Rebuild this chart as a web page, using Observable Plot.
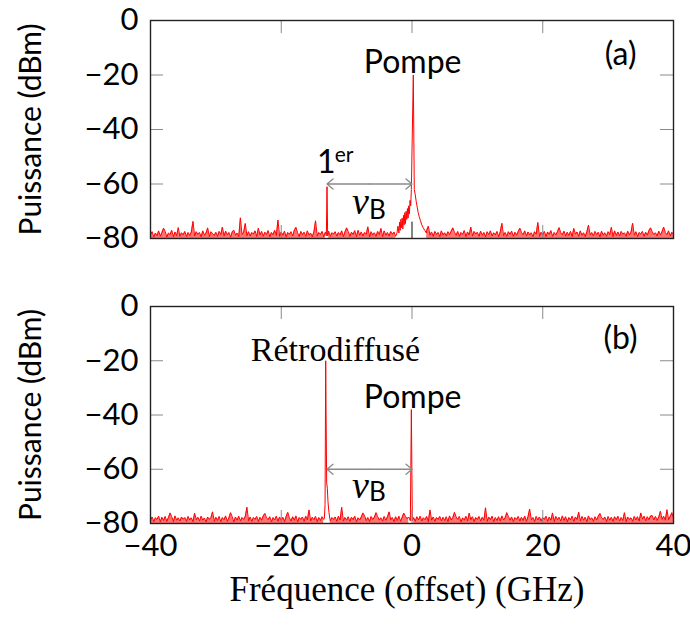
<!DOCTYPE html>
<html><head><meta charset="utf-8">
<script src="https://cdn.jsdelivr.net/npm/d3@7"></script>
<script src="https://cdn.jsdelivr.net/npm/@observablehq/plot@0.6"></script>
<style>
body{margin:0;background:#fff}
#chart{width:690px;height:625px;position:relative}
#chart svg{display:block}
</style>
</head><body><div id="chart"></div>
<script>
// ---------------- data ----------------
const xTicks = [-40, -20, 0, 20, 40];
const yTicks = [-80, -60, -40, -20, 0];
const xInnerTicks = [-20, 0, 20];
const yInnerTicks = [-60, -40, -20];
const floorDb = -80;          // noise floor (dBm)
const noiseStart = -40;       // GHz, first noise sample
const noiseStep = 0.25;       // GHz between noise samples

// noise heights above floor (dB), panel (a)
const noiseA = [
1.5,2.5,0.5,2,1,2.8,0.8,2.2,3.8,2.6,0.5,2,1.4,3,0.6,2.4,1,4,0.8,2.1,
1.3,2.6,0.7,2.2,1.1,2.4,6.3,0.9,2.5,1.5,2.2,0.6,2.8,1.2,2,3.9,0.7,2.5,1.8,1.1,
2.3,0.8,2.6,1.4,4.2,0.9,2.7,1.3,2.2,0.5,2.4,3,1.2,2,0.7,7.6,1.5,2.3,5.5,1,
2.5,0.9,2.2,1.6,2.8,0.7,3.8,1.3,2.6,0.8,2.3,1.5,2.9,0.6,2.2,1.4,3,1.1,6.8,0.8,
2.4,1.2,2.7,0.6,2.2,1.5,2.5,0.9,3,4.1,2.1,0.7,2.6,1.4,2.3,0.8,2.8,1.2,2,0.6,
2.4,6.5,0.9,2.2,1.5,2.6,0.7,2.3,1.2,2.7,0.8,2.1,1.6,2.5,0.9,2.2,1.3,2.8,0.7,2.4,
3.9,2.6,0.8,2.3,1.5,2.9,0.7,3,1.2,2.4,0.9,2.2,1.6,4.3,0.6,2.5,1.3,2.1,0.8,2.6,
1.4,3.7,0.7,2.8,1.2,2.2,0.9,2.6,1.5,2.4,0.8,2.7,1.6,2.9,3,2.5,3.2,4,3.4,5,
4,5,6,5,4,3,4,3,2,3,4.5,1.2,2.4,0.8,2.6,1.5,2.2,0.7,2.8,1.3,
2.1,0.9,2.5,1.4,2.7,3.9,2.3,1.2,2.6,0.8,2.2,1.5,2.9,0.7,2.4,1.3,4.2,0.9,2.6,1.6,
2.3,0.8,2.7,1.2,2.2,0.6,2.5,1.4,2.8,0.9,2.1,1.3,2.6,0.7,2.4,5.6,1.1,2.2,0.8,2.5,
1.5,2.7,0.8,2.3,1.2,2.6,3.8,2.2,1.4,2.8,0.9,2.4,1.3,2.1,0.7,2.5,1.6,5.9,0.8,2.3,
1.2,2.6,0.7,2.4,1.5,2.9,0.8,2.2,1.3,2.5,4,2.1,1.4,2.7,0.9,2.3,1.1,2.6,0.7,3.7,
1.6,2.4,0.8,2.8,1.2,2.1,0.7,2.5,4.9,1.3,2.2,0.9,2.6,1.4,2.3,0.6,2.7,1.2,2.1,0.8,
2.5,1.4,4.1,0.7,2.8,1.1,2.4,0.9,2.6,1.5,2.1,0.8,2.7,1.3,2.3,5.6,1.2,2.5,0.7,2.2,
1.6,2.6,0.8,2.3,1.2,2.9,3.9,2.4,1.5,2.1,0.9,2.7,1.3,2.5,4.2,2.2,1.4,2.8,0.9,2.3,
1.5];

// noise heights above floor (dB), panel (b)
const noiseB = [
1.2,2.4,0.7,2.1,1.5,2.7,0.6,2.3,1.1,2.6,0.8,2.2,3.9,2.5,0.7,2.8,1.2,2.1,0.9,2.4,
1.6,2.2,0.8,2.6,1.3,2.1,0.7,3.8,1.4,2.3,0.9,2.7,1.2,2,0.6,2.4,1.5,2.2,4.3,0.8,
2.3,1.1,2.6,0.7,2.2,1.4,2.8,0.8,2.1,4,2.5,0.6,2.4,1.2,2.7,0.9,2.2,1.5,2.6,6,
1,2.4,0.8,2.2,1.5,2.6,0.7,2.3,1.2,2.8,3.7,2.1,1.4,2.5,0.6,2.2,1.3,2.7,0.8,2.4,
1.1,2.3,0.7,2.6,4.1,2.1,0.9,2.5,1.2,2.8,0.6,2.2,1.5,2.4,0.8,2.7,1.3,5,0.9,2.3,
1.4,2.6,0.7,2.2,1.1,2.5,1.5,3,1.2,2.6,1,2.2,1.5,2.4,0.8,2.7,1.3,6,0.9,2.2,
1.2,2.5,0.8,2.3,1.4,2.7,0.6,2.1,1.3,2.4,3.9,2.8,1.1,2.2,0.7,2.6,1.5,2.3,4,2.5,
1.3,2.1,0.9,2.6,1.2,2.4,4.3,1.4,2.2,0.7,2.5,1.1,2.7,0.8,2.3,3.8,2.6,1.8,2.4,2.9,
1.6,2.2,0.8,2.5,1.3,2.7,0.9,2.1,1.4,2.6,0.7,5,1.2,2.4,0.8,2.2,1.5,2.6,0.9,2.3,
1.1,2.5,0.7,2.8,1.3,2.2,4.1,2.4,1.5,2.6,0.6,2.1,1.2,2.7,0.9,3.8,1.4,2.5,0.7,2.2,
1.5,2.6,0.9,2.3,1.2,5.8,0.8,2.4,1.4,2.7,0.7,2.2,1.1,2.5,0.9,2.8,1.3,2.1,4,2.6,
1.2,2.4,0.7,2.2,1.5,2.6,0.9,2.3,1.1,2.7,0.8,2.5,5.3,1.4,2.2,0.7,2.6,1.3,2.4,0.9,
2.2,1.5,2.7,0.8,2.4,1.2,3.9,0.7,2.6,1.4,2.3,0.9,2.8,1.1,2.5,0.6,2.2,1.3,2.7,0.8,
2.4,1.5,4.2,0.9,2.6,1.2,2.3,0.7,2.8,1.4,2.1,0.8,2.5,1.3,2.7,3.7,2.2,1.5,2.4,0.7,
2.6,1.2,2.3,0.8,2.5,1.4,2.7,0.9,2.2,1.1,4,0.7,2.4,1.5,2.1,0.8,2.6,1.3,2.5,0.9,
3.9,1.6,2.7,1,2.5,1.4,2.8,2.9,1.3,2.6,1.1,2.4,4.5,1.5,2.7,1.2,5.1,1.4,2.6,4,
1.8];

// peaks, panel (a)
const firstA_x = [-13.1, -13.0, -12.9];
const firstA_y = [-79, -61, -79];
const pumpA_x = [-2.3,-2.15,-2.0,-1.9,-1.8,-1.7,-1.6,-1.5,-1.4,-1.3,
                 -1.2,-1.1,-1.0,-0.9,-0.8,-0.7,-0.6,-0.5,-0.4,-0.3,
                 -0.2,-0.1,0.2,0.35,0.5,0.65,0.8,0.95,1.1,1.3,
                 1.5,1.7,1.95,2.2];
const pumpA_y = [-78,-75.5,-78,-74,-77,-73,-76,-72.5,-76.5,-71.5,
                 -75,-70.5,-74.5,-70,-73,-69,-72.5,-68,-71,-66,
                 -68,-62,-20,-62,-64,-66.5,-68.5,-70.5,-72,-73.5,
                 -75,-76,-77,-78];
const blackA_x = [0];
const blackA_y = [-74];

// peaks, panel (b)
const retroB_x = [-13.4,-13.3,-13.2,-13.15,-13.05,-12.95,-12.85,-12.7,-12.55];
const retroB_y = [-78,-73,-20,-38,-65,-67,-72,-76,-78.5];
const pumpB_x = [-0.25,-0.1,0.05];
const pumpB_y = [-79,-38,-79];

// annotations
const arrowSpan = [-13, 0];   // GHz, ν_B arrow ends
const arrowLevel = -60;       // dBm
const labelsA = [
  {t: "Pompe", x: 0.1, y: -15.6, font: "sans", size: 32},
  {t: "1", x: -13.1, y: -52.1, font: "sans", size: 32},
  {t: "er", x: -10.4, y: -49.5, font: "sans", size: 21},
  {t: "(a)", x: 31.9, y: -12.7, font: "sans", size: 32},
  {t: "ν", x: -7.9, y: -66.5, font: "serifI", size: 38},
  {t: "B", x: -5.3, y: -69.8, font: "sans", size: 26}
];
const labelsB = [
  {t: "Rétrodiffusé", x: -11.7, y: -16.1, font: "serif", size: 34},
  {t: "Pompe", x: 0.1, y: -33.7, font: "sans", size: 32},
  {t: "(b)", x: 31.9, y: -11.8, font: "sans", size: 32},
  {t: "ν", x: -7.9, y: -66, font: "serifI", size: 38},
  {t: "B", x: -5.3, y: -68.8, font: "sans", size: 26}
];
const yTitle = "Puissance (dBm)";
const xTitle = "Fréquence (offset) (GHz)";

// ---------------- build ----------------
const SANS = "Lato, 'DejaVu Sans', sans-serif";
const SERIF = "'Liberation Serif', 'DejaVu Serif', serif";

const inPeak = (x, peaks) => peaks.some(([px]) => x >= px[0] && x <= px[px.length - 1]);

function buildSeries(noise, peaks) {
  const pts = [];
  noise.forEach((h, i) => {
    const x = noiseStart + i * noiseStep;
    if (inPeak(x, peaks)) return;
    pts.push({x, y: floorDb + h});
  });
  peaks.forEach(([px, py]) => px.forEach((x, i) => pts.push({x, y: py[i]})));
  return pts.sort((a, b) => a.x - b.x);
}
function buildNoiseArea(noise, peaks) {
  return noise.map((h, i) => {
    const x = noiseStart + i * noiseStep;
    return {x, y: inPeak(x, peaks) ? NaN : floorDb + h};
  });
}

const peaksA = [[firstA_x, firstA_y], [pumpA_x, pumpA_y]];
const peaksB = [[retroB_x, retroB_y], [pumpB_x, pumpB_y]];
const seriesA = buildSeries(noiseA, peaksA);
const seriesB = buildSeries(noiseB, peaksB);
const areaA = buildNoiseArea(noiseA, peaksA);
const areaB = buildNoiseArea(noiseB, peaksB);
const blackA = blackA_x.map((x, i) => ({x, y: blackA_y[i]}));

const mid = (arrowSpan[0] + arrowSpan[1]) / 2;
const arrows = arrowSpan.map(e => ({x1: mid, x2: e, y: arrowLevel}));

const fontOf = f => f === "sans" ? SANS : SERIF;

function panel({series, area, black, labels, height, marginTop, marginBottom, showX}) {
  const fh = height - marginTop - marginBottom;
  const fw = 690 - 150 - 17;
  const tick = 13;
  const tickStyle = {stroke: "#8a8a8a", strokeWidth: 1};
  const marks = [
    Plot.areaY(area, {x: "x", y1: floorDb, y2: "y", fill: "#ff0000", fillOpacity: 0.55}),
    Plot.line(series, {x: "x", y: "y", stroke: "#ff0000", strokeWidth: 1}),
    black ? Plot.ruleX(black, {x: "x", y1: floorDb, y2: "y", stroke: "#000", strokeWidth: 1}) : null,
    Plot.arrow(arrows, {x1: "x1", x2: "x2", y1: "y", y2: "y", stroke: "#8a8a8a", strokeWidth: 1.3, headLength: 9, headAngle: 80}),
    ...labels.map(l => Plot.text([l], {
      x: "x", y: "y", text: "t", fontSize: l.size, fontFamily: fontOf(l.font),
      fontStyle: l.font === "serifI" ? "italic" : "normal", fill: "#000", lineAnchor: "middle", textAnchor: "middle"
    })),
    Plot.tickX(xInnerTicks, {x: d => d, ...tickStyle, insetBottom: fh - tick}),
    Plot.tickX(xInnerTicks, {x: d => d, ...tickStyle, insetTop: fh - tick}),
    Plot.tickY(yInnerTicks, {y: d => d, ...tickStyle, insetRight: fw - tick}),
    Plot.tickY(yInnerTicks, {y: d => d, ...tickStyle, insetLeft: fw - tick}),
    Plot.frame({stroke: "#222", strokeWidth: 1.4}),
    Plot.axisY(yTicks, {tickSize: 0, tickPadding: 12, label: null, fontSize: 31, fontFamily: SANS}),
    Plot.text([yTitle], {frameAnchor: "left", dx: -119, rotate: -90, textAnchor: "middle", lineAnchor: "middle", fontSize: 30, fontFamily: SANS, fill: "#000"})
  ];
  if (showX) {
    marks.push(Plot.axisX(xTicks, {tickSize: 0, tickPadding: 10, label: null, fontSize: 31, fontFamily: SANS}));
    marks.push(Plot.text([xTitle], {frameAnchor: "bottom", dy: 77, dx: -5, textAnchor: "middle", fontSize: 35, fontFamily: SERIF, fill: "#000"}));
  }
  return Plot.plot({
    width: 690, height, marginLeft: 150, marginRight: 17, marginTop, marginBottom,
    style: {fontFamily: SANS, fontSize: "31px", color: "#000", background: "#fff", overflow: "visible"},
    x: {domain: [-40, 40], axis: showX ? undefined : null},
    y: {domain: [-80, 0]},
    marks
  });
}

const chart = document.getElementById("chart");
chart.append(panel({series: seriesA, area: areaA, black: blackA, labels: labelsA, height: 288, marginTop: 20, marginBottom: 50, showX: false}));
chart.append(panel({series: seriesB, area: areaB, black: null, labels: labelsB, height: 337, marginTop: 18, marginBottom: 102, showX: true}));
</script>
</body></html>
